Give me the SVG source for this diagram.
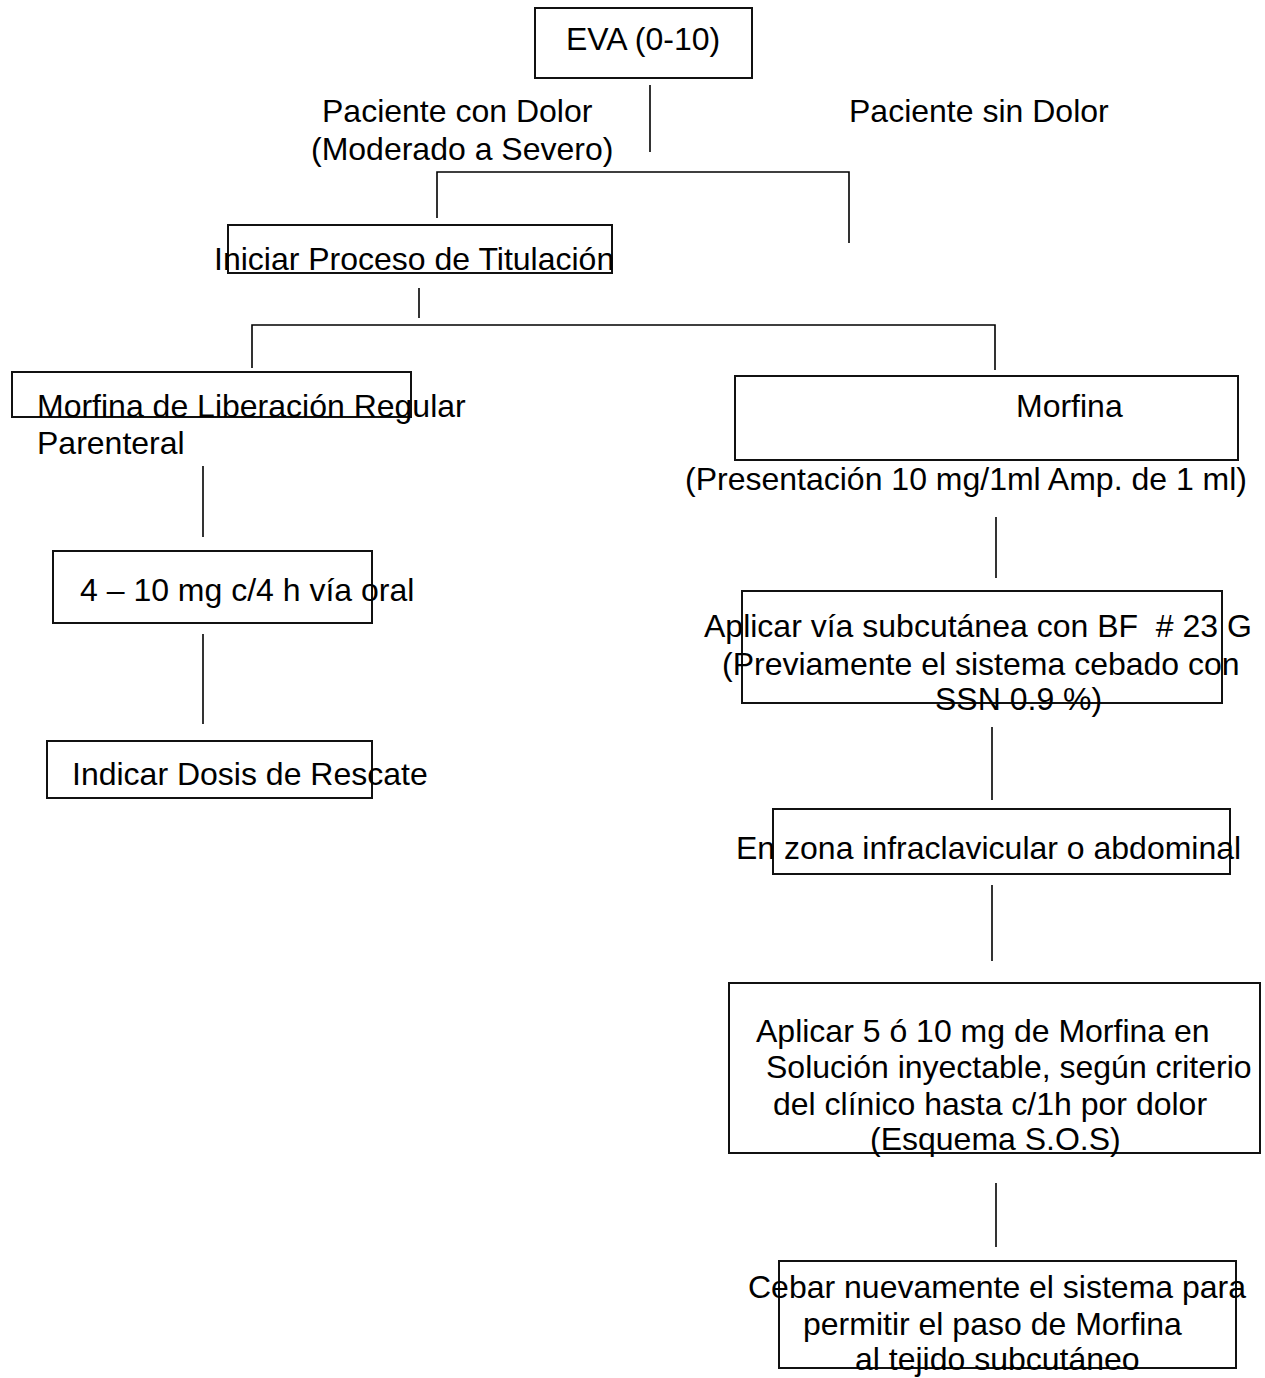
<svg xmlns="http://www.w3.org/2000/svg" width="1265" height="1378" viewBox="0 0 1265 1378">
<style>
.box{fill:none;stroke:#111;stroke-width:2}
.ln{fill:none;stroke:#000;stroke-width:1.6}
text{font-family:"Liberation Sans",Arial,sans-serif;font-size:32px;fill:#000}
</style>
<rect width="1265" height="1378" fill="#fff"/>
<g id="connectors">
<line class="ln" x1="650" y1="85" x2="650" y2="152"/>
<polyline class="ln" points="437,218 437,172 849,172 849,243"/>
<line class="ln" x1="419" y1="288" x2="419" y2="318"/>
<polyline class="ln" points="252,368 252,325 995,325 995,370"/>
<line class="ln" x1="203" y1="466" x2="203" y2="537"/>
<line class="ln" x1="203" y1="634" x2="203" y2="724"/>
<line class="ln" x1="996" y1="517" x2="996" y2="578"/>
<line class="ln" x1="992" y1="727" x2="992" y2="800"/>
<line class="ln" x1="992" y1="885" x2="992" y2="961"/>
<line class="ln" x1="996" y1="1183" x2="996" y2="1247"/>
</g>
<g id="eva">
<rect class="box" x="535" y="8" width="217" height="70"/>
<text x="566" y="50">EVA (0-10)</text>
</g>
<g id="con-dolor">
<text x="322" y="122">Paciente con Dolor</text>
<text x="311" y="160">(Moderado a Severo)</text>
</g>
<g id="sin-dolor">
<text x="849" y="122">Paciente sin Dolor</text>
</g>
<g id="titulacion">
<rect class="box" x="228" y="225" width="384" height="48"/>
<text x="214" y="270">Iniciar Proceso de Titulación</text>
</g>
<g id="morfina-regular">
<rect class="box" x="12" y="372" width="399" height="45"/>
<text x="37" y="417">Morfina de Liberación Regular</text>
<text x="37" y="454">Parenteral</text>
</g>
<g id="dosis-oral">
<rect class="box" x="53" y="551" width="319" height="72"/>
<text x="80" y="601">4 – 10 mg c/4 h vía oral</text>
</g>
<g id="rescate">
<rect class="box" x="47" y="741" width="325" height="57"/>
<text x="72" y="785">Indicar Dosis de Rescate</text>
</g>
<g id="morfina">
<rect class="box" x="735" y="376" width="503" height="84"/>
<text x="1016" y="417">Morfina</text>
<text x="685" y="490">(Presentación 10 mg/1ml Amp. de 1 ml)</text>
</g>
<g id="subcutanea">
<rect class="box" x="742" y="591" width="480" height="112"/>
<text x="704" y="637" xml:space="preserve">Aplicar vía subcutánea con BF  # 23 G</text>
<text x="722" y="675">(Previamente el sistema cebado con</text>
<text x="935" y="710">SSN 0.9 %)</text>
</g>
<g id="zona">
<rect class="box" x="773" y="809" width="457" height="65"/>
<text x="736" y="859">En zona infraclavicular o abdominal</text>
</g>
<g id="aplicar-dosis">
<rect class="box" x="729" y="983" width="531" height="170"/>
<text x="756" y="1042">Aplicar 5 ó 10 mg de Morfina en</text>
<text x="766" y="1078">Solución inyectable, según criterio</text>
<text x="773" y="1115">del clínico hasta c/1h por dolor</text>
<text x="870" y="1150">(Esquema S.O.S)</text>
</g>
<g id="cebar">
<rect class="box" x="779" y="1261" width="457" height="107"/>
<text x="748" y="1298">Cebar nuevamente el sistema para</text>
<text x="803" y="1335">permitir el paso de Morfina</text>
<text x="855" y="1370">al tejido subcutáneo</text>
</g>
</svg>
